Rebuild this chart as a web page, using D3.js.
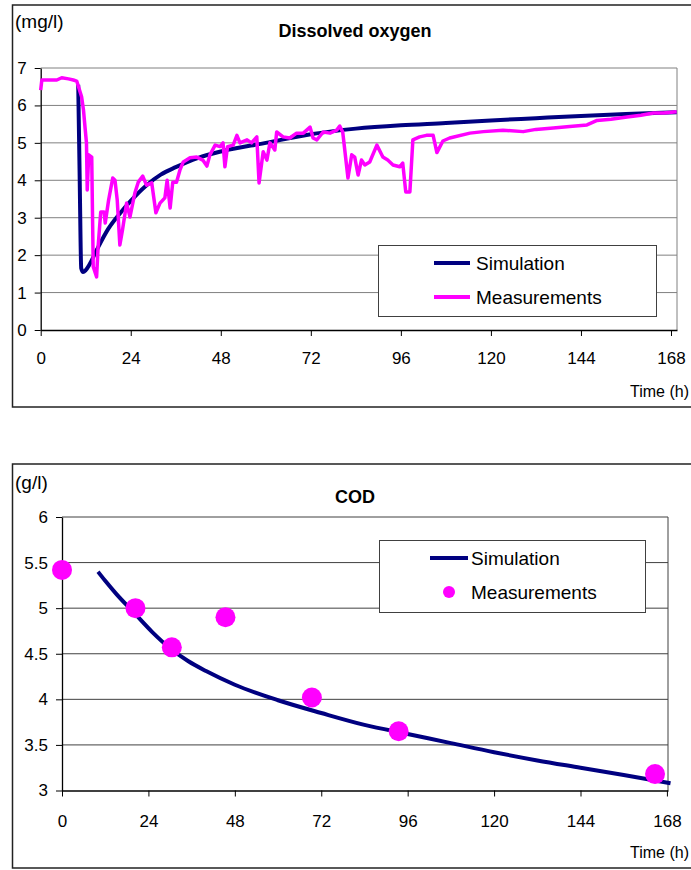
<!DOCTYPE html>
<html>
<head>
<meta charset="utf-8">
<script src="https://cdn.jsdelivr.net/npm/d3@7"></script>
<style>
  body { margin: 0; background: #fff; }
  svg { display: block; font-family: "Liberation Sans", Arial, sans-serif; }
</style>
</head>
<body>
<svg id="chart" width="691" height="870"></svg>
<script>
// ---- data: dissolved oxygen (mg/l)
var doMeasTime = [0, 0.3, 4.3, 5.6, 7.4, 8.7, 9.6, 10.9, 11.4, 11.8, 12.2, 12.4, 12.8, 13.6, 14.0, 14.9, 15.3, 16.0,
  16.9, 17.2, 18.1, 19.2, 19.8, 20.4, 21.1, 21.8, 22.9, 23.8, 25.1, 26.0, 27.2, 28.2, 29.6, 30.7, 31.8, 33.1, 33.7,
  34.5, 35.2, 36.2, 37.1, 38.0, 39.8, 41.6, 43.2, 44.3, 45.1, 46.5, 47.8, 48.6, 49.1, 49.8, 51.3, 52.3, 53.1, 55.0,
  56.2, 57.6, 58.2, 59.3, 60.3, 61.1, 62.4, 62.9, 64.6, 66.4, 68.2, 70.0, 71.8, 72.6, 73.6, 75.3, 77.1, 78.9, 79.7,
  80.5, 81.9, 82.9, 83.7, 84.6, 85.5, 86.4, 87.7, 89.6, 91.2, 92.5, 93.9, 95.7, 96.5, 97.3, 98.4, 99.2, 101.0, 102.8,
  104.6, 105.6, 107.2, 109.0, 114.4, 118.0, 123.2, 128.6, 132.0, 136.6, 141.0, 145.6, 148.3, 152.0, 156.3, 160.0,
  163.3, 166.0, 169.5];
var doMeas = [6.41, 6.68, 6.68, 6.74, 6.71, 6.68, 6.65, 6.23, 5.88, 5.43, 5.0, 3.74, 4.68, 4.62, 1.69, 1.42, 2.22, 3.15,
  3.15, 2.86, 3.47, 4.06, 4.0, 3.47, 2.27, 2.67, 3.39, 3.02, 3.66, 3.95, 4.11, 3.87, 3.93, 3.13, 3.39, 3.53, 4.0,
  3.26, 3.95, 3.95, 4.27, 4.49, 4.6, 4.62, 4.54, 4.38, 4.68, 4.94, 4.9, 5.0, 4.36, 4.9, 4.94, 5.2, 5.0, 5.08,
  5.0, 5.16, 3.93, 4.76, 4.54, 5.0, 4.81, 5.29, 5.16, 5.13, 5.26, 5.26, 5.42, 5.13, 5.08, 5.29, 5.26, 5.34, 5.45,
  5.29, 4.06, 4.68, 4.62, 4.14, 4.54, 4.41, 4.49, 4.94, 4.62, 4.54, 4.41, 4.36, 4.46, 3.69, 3.69, 5.08, 5.16, 5.2,
  5.2, 4.74, 5.05, 5.13, 5.26, 5.3, 5.34, 5.3, 5.36, 5.4, 5.44, 5.48, 5.6, 5.63, 5.69, 5.74,
  5.8, 5.8, 5.83];
var doSimTime = [10.0, 10.4, 10.8, 11.3, 12, 13, 15, 18, 21, 24, 28, 32, 36, 42, 48, 60, 72, 84, 96, 108, 120, 132, 144, 156, 169.5];
var doSim = [6.55, 4.0, 1.65, 1.55, 1.6, 1.75, 2.15, 2.7, 3.1, 3.45, 3.85, 4.15, 4.35, 4.6, 4.77, 5.0, 5.23, 5.38, 5.47, 5.53, 5.6, 5.66, 5.72, 5.77, 5.82];

// ---- data: COD (g/l)
var codSimTime = [10, 12, 15, 20, 25, 30, 35, 40, 48, 60, 72, 84, 96, 108, 120, 132, 144, 156, 169];
var codSim = [5.4, 5.3, 5.16, 4.95, 4.74, 4.56, 4.42, 4.31, 4.16, 3.99, 3.85, 3.72, 3.62, 3.52, 3.42, 3.33, 3.25, 3.17, 3.08];
var codMeasTime = [0, 20.4, 30.5, 45.4, 69.4, 93.5, 164.7];
var codMeas = [5.42, 5.0, 4.57, 4.9, 4.02, 3.65, 3.18];

var timeTicks = [0, 24, 48, 72, 96, 120, 144, 168];
var doTicks = [0, 1, 2, 3, 4, 5, 6, 7];
var codTicks = [3, 3.5, 4, 4.5, 5, 5.5, 6];
var seriesNames = ['Simulation', 'Measurements'];

var simColor = '#000080';
var measColor = '#ff00ff';
var svg = d3.select('#chart');

function zip(ts, vs) { return ts.map((t, i) => ({t: t, v: vs[i]})); }

// one panel (border, title, axes, grid)
function panel(o) {
  var g = svg.append('g');
  g.append('rect')
    .attr('x', 12.5).attr('y', o.top)
    .attr('width', 720).attr('height', o.height)
    .attr('fill', 'none').attr('stroke', '#222').attr('stroke-width', 1.5);

  g.append('text').attr('x', 15).attr('y', o.unitY)
    .style('font-size', '19px').text(o.unit);
  g.append('text').attr('x', 355).attr('y', o.titleY)
    .attr('text-anchor', 'middle').style('font-size', '18px').style('font-weight', 'bold')
    .text(o.title);

  var x = d3.scaleLinear().domain(o.xDomain).range(o.xRange);
  var y = d3.scaleLinear().domain(o.yDomain).range(o.yRange);

  // gridlines
  g.append('g').selectAll('line').data(o.yTicks.slice(1)).enter().append('line')
    .attr('x1', o.xRange[0]).attr('x2', o.xRange[1])
    .attr('y1', d => y(d)).attr('y2', d => y(d))
    .attr('stroke', o.grid).attr('stroke-width', 1);
  // right edge of plot area
  g.append('line')
    .attr('x1', o.xRange[1]).attr('x2', o.xRange[1])
    .attr('y1', o.yRange[0]).attr('y2', o.yRange[1])
    .attr('stroke', o.grid);

  var xAxis = d3.axisBottom(x).tickValues(timeTicks).tickSize(6).tickSizeOuter(0);
  var yAxis = d3.axisLeft(y).tickValues(o.yTicks).tickSize(6).tickSizeOuter(0)
    .tickFormat(d3.format('~g'));

  var gx = g.append('g').attr('transform', 'translate(0,' + o.yRange[0] + ')').call(xAxis);
  gx.selectAll('.tick text').attr('y', o.xLabelDy).attr('dy', '0.71em');
  var gy = g.append('g').attr('transform', 'translate(' + o.xRange[0] + ',0)').call(yAxis);
  gy.selectAll('.tick text').attr('x', -14);
  g.selectAll('.tick text').style('font-size', '17px').style('font-family', '"Liberation Sans", Arial, sans-serif')
    .attr('fill', '#000');
  g.selectAll('.tick line').attr('stroke', '#000');
  g.selectAll('.domain').attr('stroke', '#000').attr('stroke-width', 1.3);

  g.append('text').attr('x', 689).attr('y', o.top + o.height - 10)
    .attr('text-anchor', 'end').style('font-size', '16px').text('Time (h)');

  return {g: g, x: x, y: y};
}

// ---- top chart: dissolved oxygen
var p1 = panel({
  top: 5, height: 402, unit: '(mg/l)', title: 'Dissolved oxygen', unitY: 28, titleY: 37,
  xDomain: [0, 169.6], xRange: [40.7, 677],
  yDomain: [0, 7], yRange: [330, 68], yTicks: doTicks,
  grid: '#808080', xLabelDy: 22
});

p1.g.append('path').datum(zip(doSimTime, doSim))
  .attr('d', d3.line().x(d => p1.x(d.t)).y(d => p1.y(d.v)).curve(d3.curveMonotoneX))
  .attr('fill', 'none').attr('stroke', simColor).attr('stroke-width', 4);
p1.g.append('path').datum(zip(doMeasTime, doMeas))
  .attr('d', d3.line().x(d => p1.x(d.t)).y(d => p1.y(d.v)))
  .attr('fill', 'none').attr('stroke', measColor).attr('stroke-width', 3.5)
  .attr('stroke-linejoin', 'round');

// legend top
var lg1 = p1.g.append('g');
lg1.append('rect').attr('x', 378.5).attr('y', 245.5).attr('width', 278).attr('height', 71)
  .attr('fill', '#fff').attr('stroke', '#404040');
lg1.selectAll('line').data(seriesNames).enter().append('line')
  .attr('x1', 434).attr('x2', 470)
  .attr('y1', (d, i) => 263 + i * 34).attr('y2', (d, i) => 263 + i * 34)
  .attr('stroke', (d, i) => i ? measColor : simColor).attr('stroke-width', 4);
lg1.selectAll('text').data(seriesNames).enter().append('text')
  .attr('x', 476).attr('y', (d, i) => 263 + i * 34).attr('dy', '0.35em')
  .style('font-size', '19px').text(d => d);

// ---- bottom chart: COD
var p2 = panel({
  top: 464, height: 404, unit: '(g/l)', title: 'COD', unitY: 489, titleY: 503,
  xDomain: [0, 168.3], xRange: [62, 668],
  yDomain: [3, 6], yRange: [790.5, 517], yTicks: codTicks,
  grid: '#404040', xLabelDy: 24
});

p2.g.append('path').datum(zip(codSimTime, codSim))
  .attr('d', d3.line().x(d => p2.x(d.t)).y(d => p2.y(d.v)).curve(d3.curveMonotoneX))
  .attr('fill', 'none').attr('stroke', simColor).attr('stroke-width', 4);
p2.g.append('g').selectAll('circle').data(zip(codMeasTime, codMeas)).enter().append('circle')
  .attr('cx', d => p2.x(d.t)).attr('cy', d => p2.y(d.v)).attr('r', 10)
  .attr('fill', measColor);

// legend bottom
var lg2 = p2.g.append('g');
lg2.append('rect').attr('x', 379.5).attr('y', 540.5).attr('width', 266).attr('height', 72)
  .attr('fill', '#fff').attr('stroke', '#404040');
lg2.append('line').attr('x1', 430).attr('x2', 468).attr('y1', 558).attr('y2', 558)
  .attr('stroke', simColor).attr('stroke-width', 4);
lg2.append('circle').attr('cx', 449).attr('cy', 592).attr('r', 6).attr('fill', measColor);
lg2.selectAll('text').data(seriesNames).enter().append('text')
  .attr('x', 471).attr('y', (d, i) => 558 + i * 34).attr('dy', '0.35em')
  .style('font-size', '19px').text(d => d);
</script>
</body>
</html>
